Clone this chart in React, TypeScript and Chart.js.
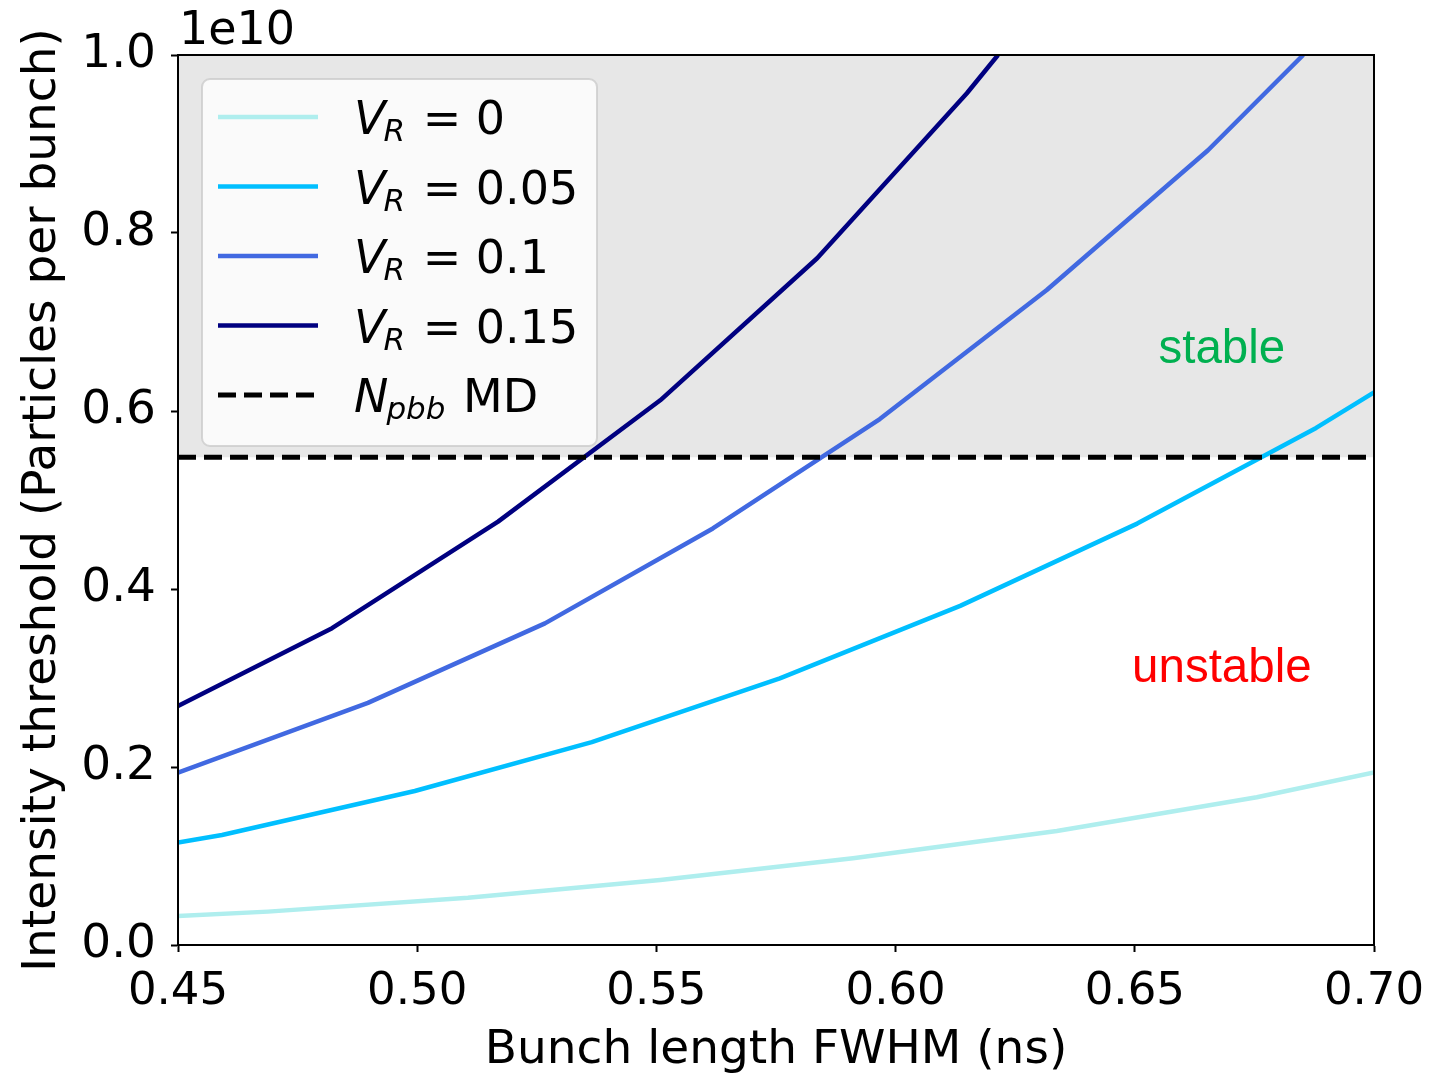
import React, { useEffect, useRef } from "react";
import { Chart, registerables } from "chart.js";

Chart.register(...registerables);

// ---- Data (intensity in units of 1e10 particles per bunch) ----
const X_TICKS = [0.45, 0.5, 0.55, 0.6, 0.65, 0.7];
const Y_TICKS = [0.0, 0.2, 0.4, 0.6, 0.8, 1.0];
const Y_OFFSET_LABEL = "1e10";

const VR_LABELS = ["0", "0.05", "0.1", "0.15"];
const VR_COLORS = ["#afeeee", "#00bfff", "#4169e1", "#000080"];

const X_VR0 = [0.45, 0.4688, 0.5106, 0.5508, 0.5911, 0.6337, 0.6755, 0.7];
const Y_VR0 = [0.0326, 0.0375, 0.053, 0.073, 0.0974, 0.128, 0.166, 0.194];

const X_VR005 = [0.45, 0.4592, 0.4995, 0.5365, 0.5758, 0.6135, 0.6505, 0.6879, 0.7];
const Y_VR005 = [0.115, 0.1236, 0.173, 0.228, 0.2996, 0.381, 0.4735, 0.581, 0.621];

const X_VR01 = [0.45, 0.4897, 0.5267, 0.5618, 0.5967, 0.6316, 0.6653, 0.6852];
const Y_VR01 = [0.1936, 0.272, 0.3614, 0.468, 0.591, 0.736, 0.893, 1.0];

const X_VR015 = [0.45, 0.4822, 0.5169, 0.5508, 0.5836, 0.6149, 0.6214];
const Y_VR015 = [0.2685, 0.356, 0.4757, 0.612, 0.7716, 0.957, 1.0];

const N_PBB_MD = 0.548;
const X_RANGE = [0.45, 0.7];
const Y_RANGE = [0.0, 1.0];

const REGION_LABELS = ["stable", "unstable"];
const REGION_ANCHORS_X = [0.6682, 0.6682];
const REGION_ANCHORS_Y = [0.654, 0.2955];
const REGION_COLORS = ["#00b050", "#ff0000"];

const X_TITLE = "Bunch length FWHM (ns)";
const Y_TITLE = "Intensity threshold (Particles per bunch)";

const FONT = '"DejaVu Sans", sans-serif';

const toPoints = (xs: number[], ys: number[]) => xs.map((x, i) => ({ x, y: ys[i] }));

const overlayPlugin = {
  id: "overlay",
  afterDraw(chart: any) {
    const { ctx, chartArea: a, scales } = chart;
    const xs = scales.x;
    const ys = scales.y;
    ctx.save();

    // frame
    ctx.strokeStyle = "black";
    ctx.lineWidth = 2;
    ctx.setLineDash([]);
    ctx.strokeRect(a.left, a.top, a.right - a.left, a.bottom - a.top);

    // offset text
    ctx.fillStyle = "black";
    ctx.font = `46px ${FONT}`;
    ctx.textAlign = "left";
    ctx.textBaseline = "alphabetic";
    ctx.fillText(Y_OFFSET_LABEL, a.left + 1, a.top - 11);

    // region annotations
    ctx.font = `47.5px "Liberation Sans", Arial, sans-serif`;
    ctx.textAlign = "center";
    REGION_LABELS.forEach((t, i) => {
      ctx.fillStyle = REGION_COLORS[i];
      ctx.fillText(t, xs.getPixelForValue(REGION_ANCHORS_X[i]), ys.getPixelForValue(REGION_ANCHORS_Y[i]));
    });

    // legend
    const lx = a.left + 24;
    const ly = a.top + 24;
    const lw = 395;
    const lh = 367;
    const r = 8;
    ctx.beginPath();
    ctx.moveTo(lx + r, ly);
    ctx.lineTo(lx + lw - r, ly);
    ctx.arcTo(lx + lw, ly, lx + lw, ly + r, r);
    ctx.lineTo(lx + lw, ly + lh - r);
    ctx.arcTo(lx + lw, ly + lh, lx + lw - r, ly + lh, r);
    ctx.lineTo(lx + r, ly + lh);
    ctx.arcTo(lx, ly + lh, lx, ly + lh - r, r);
    ctx.lineTo(lx, ly + r);
    ctx.arcTo(lx, ly, lx + r, ly, r);
    ctx.closePath();
    ctx.fillStyle = "rgba(255,255,255,0.8)";
    ctx.fill();
    ctx.strokeStyle = "rgba(204,204,204,0.8)";
    ctx.lineWidth = 2;
    ctx.stroke();

    const entries = [
      ...VR_LABELS.map((v, i) => ({ main: "V", sub: "R", rest: " = " + v, color: VR_COLORS[i], dash: false })),
      { main: "N", sub: "pbb", rest: " MD", color: "black", dash: true },
    ];
    entries.forEach((e, i) => {
      const cy = ly + 38 + i * 69.5;
      ctx.beginPath();
      ctx.strokeStyle = e.color;
      ctx.lineWidth = e.dash ? 5 : 4.5;
      ctx.lineCap = "butt";
      ctx.setLineDash(e.dash ? [18, 8] : []);
      ctx.moveTo(lx + 16, cy);
      ctx.lineTo(lx + 116, cy);
      ctx.stroke();
      ctx.setLineDash([]);

      let tx = lx + 152;
      ctx.fillStyle = "black";
      ctx.textAlign = "left";
      ctx.font = `italic 46px ${FONT}`;
      ctx.fillText(e.main, tx, cy + 17);
      tx += ctx.measureText(e.main).width - 2;
      ctx.font = `italic 31px ${FONT}`;
      ctx.fillText(e.sub, tx, cy + 24);
      tx += ctx.measureText(e.sub).width + 3;
      ctx.font = `46px ${FONT}`;
      ctx.fillText(e.rest, tx, cy + 17);
    });

    ctx.restore();
  },
};

export default function App() {
  const ref = useRef<HTMLCanvasElement | null>(null);

  useEffect(() => {
    if (!ref.current) return;
    const datasets: any[] = [
      {
        label: "N_pbb MD",
        data: [
          { x: X_RANGE[0], y: N_PBB_MD },
          { x: X_RANGE[1], y: N_PBB_MD },
        ],
        borderColor: "black",
        borderWidth: 5,
        borderDash: [18, 8],
        pointRadius: 0,
        fill: "end",
        backgroundColor: "#e7e7e7",
        order: -1,
      },
    ];
    const xsAll = [X_VR0, X_VR005, X_VR01, X_VR015];
    const ysAll = [Y_VR0, Y_VR005, Y_VR01, Y_VR015];
    VR_LABELS.forEach((lab, i) => {
      datasets.push({
        label: "V_R = " + lab,
        data: toPoints(xsAll[i], ysAll[i]),
        borderColor: VR_COLORS[i],
        borderWidth: 4.5,
        pointRadius: 0,
        tension: 0,
        fill: false,
        borderJoinStyle: "round",
        order: 10 - i,
      });
    });

    const chart = new Chart(ref.current, {
      type: "line",
      data: { datasets },
      plugins: [overlayPlugin],
      options: {
        animation: false,
        responsive: false,
        maintainAspectRatio: false,
        devicePixelRatio: 1,
        layout: { autoPadding: false, padding: { left: 0, top: 55, right: 58, bottom: 0 } },
        plugins: {
          legend: { display: false },
          tooltip: { enabled: false },
          filler: { drawTime: "beforeDatasetsDraw" },
        },
        scales: {
          x: {
            type: "linear",
            min: X_RANGE[0],
            max: X_RANGE[1],
            afterBuildTicks: (s: any) => {
              s.ticks = X_TICKS.map((v) => ({ value: v }));
            },
            afterFit: (s: any) => {
              s.height = 128;
              s.paddingLeft = 0;
              s.paddingRight = 0;
              s.paddingTop = 0;
              s.paddingBottom = 0;
            },
            ticks: {
              callback: (v: any) => Number(v).toFixed(2),
              font: { family: FONT, size: 45 },
              color: "black",
              padding: 13,
              maxRotation: 0,
              autoSkip: false,
            },
            grid: {
              drawOnChartArea: false,
              drawTicks: true,
              tickLength: 7,
              tickColor: "black",
              tickWidth: 2,
            },
            border: { display: true, color: "black", width: 2 },
            title: {
              display: true,
              text: X_TITLE,
              font: { family: FONT, size: 47, lineHeight: 0.95 },
              color: "black",
              padding: 0,
            },
          },
          y: {
            type: "linear",
            min: Y_RANGE[0],
            max: Y_RANGE[1],
            afterBuildTicks: (s: any) => {
              s.ticks = Y_TICKS.map((v) => ({ value: v }));
            },
            afterFit: (s: any) => {
              s.width = 178;
              s.paddingLeft = 0;
              s.paddingRight = 0;
              s.paddingTop = 0;
              s.paddingBottom = 0;
            },
            ticks: {
              callback: (v: any) => Number(v).toFixed(1),
              font: { family: FONT, size: 47 },
              color: "black",
              padding: 15,
              autoSkip: false,
            },
            grid: {
              drawOnChartArea: false,
              drawTicks: true,
              tickLength: 7,
              tickColor: "black",
              tickWidth: 2,
            },
            border: { display: true, color: "black", width: 2 },
            title: {
              display: true,
              text: Y_TITLE,
              font: { family: FONT, size: 47 },
              color: "black",
              padding: { top: 15, bottom: 0 },
            },
          },
        },
      } as any,
    });
    return () => chart.destroy();
  }, []);

  return (
    <div style={{ position: "absolute", left: 0, top: 0, width: 1432, height: 1073, background: "white" }}>
      <canvas ref={ref} width={1432} height={1073} style={{ display: "block" }} />
    </div>
  );
}
